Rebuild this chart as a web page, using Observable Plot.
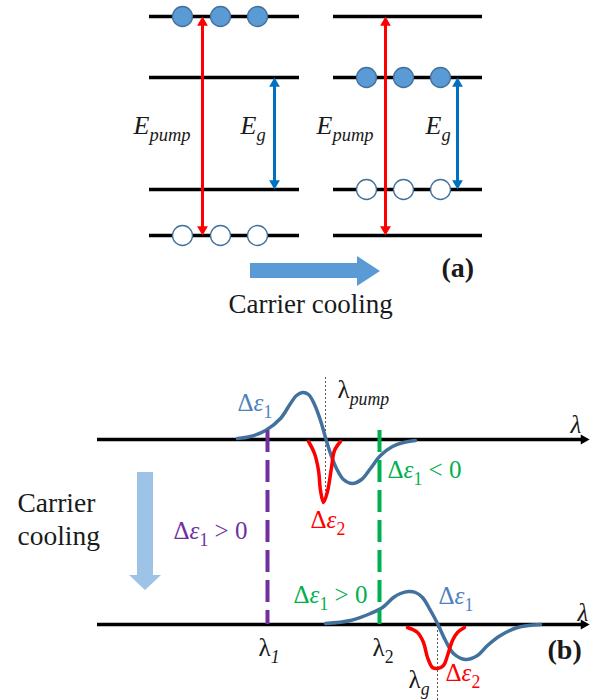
<!DOCTYPE html>
<html><head><meta charset="utf-8">
<script src="https://cdn.jsdelivr.net/npm/d3@7"></script>
<script src="https://cdn.jsdelivr.net/npm/@observablehq/plot@0.6"></script>
<style>
body{margin:0;background:#fff}
#chart svg{display:block;overflow:visible}
</style>
</head><body><div id="chart"></div>
<script>
// ================= DATA (diagram units) =================
// ---- Panel (a): band levels before / after carrier cooling ----
const levelY = [16, 77, 189, 235];
const panelSpans = [{x1: 149, x2: 299}, {x1: 333, x2: 482}];
const electrons = [
  {x: 182, y: 16}, {x: 220, y: 16}, {x: 257, y: 16},
  {x: 366, y: 77}, {x: 403, y: 77}, {x: 440, y: 77}
];
const holes = [
  {x: 182, y: 235}, {x: 220, y: 235}, {x: 257, y: 235},
  {x: 366, y: 189}, {x: 403, y: 189}, {x: 440, y: 189}
];
const pumpArrows = [{x: 202, y1: 16, y2: 235}, {x: 385, y1: 16, y2: 235}];
const gapArrows = [{x: 274, y1: 77, y2: 189}, {x: 457, y1: 77, y2: 189}];
const coolingArrowA = [
  {x: 250, y1: 263, y2: 278}, {x: 357, y1: 263, y2: 278},
  {x: 357, y1: 256, y2: 286}, {x: 380, y1: 271, y2: 271}
];
const labelsA = [
  {text: "E_{pump}", x: 133, y: 125}, {text: "E_{g}", x: 240, y: 125},
  {text: "E_{pump}", x: 316, y: 125}, {text: "E_{g}", x: 425, y: 125}
];
const titleA = [{text: "Carrier cooling", x: 228, y: 304}];
const panelTags = [{text: "(a)", x: 441, y: 268}, {text: "(b)", x: 547, y: 650}];

// ---- Panel (b): permittivity change spectra ----
const axesB = [{y: 439, x1: 97, x2: 589}, {y: 624, x1: 97, x2: 589}];
const coolingArrowB = [
  {y: 472, x1: 137, x2: 153}, {y: 575, x1: 137, x2: 153},
  {y: 575, x1: 129, x2: 161}, {y: 590, x1: 145, x2: 145}
];
const eps1Before = [
  [237,438],[250,436],[265,430],[280,418],[290,403],[296,395],[302,392],[308,394],
  [314,404],[320,420],[325,437],[330,453],[336,468],[343,479],[352,483],[361,479],
  [370,468],[380,455],[392,446],[403,442],[415,440]
];
const eps2Before = [
  [308,441],[314,453],[318,470],[320,490],[323,502],[327,491],[331,467],[334,450],[340,441]
];
const eps1After = [
  [325,623],[350,620],[370,613],[382,607],[393,597],[400,593],[408,591],[415,592],
  [422,597],[430,610],[437,623],[445,640],[453,653],[465,659],[477,655],[487,645],
  [500,635],[517,627],[540,624]
];
const eps2After = [
  [407,627],[417,632],[423,642],[427,657],[432,667],[437,668],[443,665],[447,655],
  [452,640],[457,632],[464,627]
];
const probeLambda1 = [{x: 267, y1: 430, y2: 624}];
const probeLambda2 = [{x: 379, y1: 430, y2: 624}];
const guides = [{x: 325, y1: 377, y2: 502}, {x: 437, y1: 622, y2: 700}];
const titleB = [{text: "Carrier", x: 17, y: 503}, {text: "cooling", x: 17, y: 536}];
const labelsB = [
  {text: "Δ*ε*_{1}", role: "eps1", x: 237, y: 402},
  {text: "Δ*ε*_{1}", role: "eps1", x: 438, y: 595},
  {text: "Δ*ε*_{2}", role: "eps2", x: 310, y: 519},
  {text: "Δ*ε*_{2}", role: "eps2", x: 445, y: 672},
  {text: "Δ*ε*_{1} > 0", role: "probe1", x: 173, y: 530},
  {text: "Δ*ε*_{1} < 0", role: "probe2", x: 387, y: 469},
  {text: "Δ*ε*_{1} > 0", role: "probe2", x: 293, y: 594},
  {text: "λ_{*pump*}", role: "text", x: 337, y: 389},
  {text: "*λ*", role: "text", x: 570, y: 424},
  {text: "*λ*", role: "text", x: 577, y: 612},
  {text: "λ_{*1*}", role: "text", x: 258, y: 647},
  {text: "λ_{2}", role: "text", x: 372, y: 647},
  {text: "λ_{*g*}", role: "text", x: 408, y: 679}
];
const roles = ["text", "eps1", "eps2", "probe1", "probe2"];
const roleColors = ["#1a1a1a", "#4F81BD", "#FF0000", "#7030A0", "#00B050"];

// ================= DRAWING =================
const serif = "Liberation Serif";
const levels = panelSpans.flatMap(s => levelY.map(y => ({...s, y})));
const red = "#FF0000", blue = "#0070C0", curveBlue = "#41719C";

function doubleArrow(data, color) {
  return [
    Plot.ruleX(data, {x: "x", y1: "y1", y2: "y2", stroke: color, strokeWidth: 3, insetTop: 6, insetBottom: 6}),
    Plot.dot(data, {x: "x", y: "y1", symbol: "triangle", r: 4, fill: color, stroke: "none", dy: 6.2, rotate: 0}),
    Plot.dot(data, {x: "x", y: "y2", symbol: "triangle", r: 4, fill: color, stroke: "none", dy: -6.2, rotate: 180})
  ];
}

const chart = Plot.plot({
  width: 595, height: 700, margin: 0,
  x: {domain: [0, 595], axis: null},
  y: {domain: [0, 700], reverse: true, axis: null},
  color: {type: "ordinal", domain: roles, range: roleColors},
  marks: [
    // panel (a)
    Plot.ruleY(levels, {y: "y", x1: "x1", x2: "x2", stroke: "black", strokeWidth: 3.5}),
    Plot.dot(electrons, {x: "x", y: "y", r: 10, fill: "#5B9BD5", stroke: "#41719C", strokeWidth: 1.3}),
    Plot.dot(holes, {x: "x", y: "y", r: 10, fill: "white", stroke: "#41719C", strokeWidth: 1.3}),
    ...doubleArrow(pumpArrows, red),
    ...doubleArrow(gapArrows, blue),
    Plot.areaY(coolingArrowA, {x: "x", y1: "y1", y2: "y2", fill: "#5B9BD5", curve: "linear"}),
    Plot.text(labelsA, {x: "x", y: "y", text: "text", textAnchor: "start", fontFamily: serif, fontSize: 26, fontStyle: "italic", fill: "#1a1a1a"}),
    Plot.text(titleA, {x: "x", y: "y", text: "text", textAnchor: "start", fontFamily: serif, fontSize: 27, fill: "#1a1a1a"}),
    Plot.text(panelTags, {x: "x", y: "y", text: "text", textAnchor: "start", fontFamily: serif, fontSize: 28, fontWeight: "bold", fill: "#1a1a1a"}),
    // panel (b)
    Plot.ruleY(axesB, {y: "y", x1: "x1", x2: "x2", stroke: "black", strokeWidth: 3.3, insetRight: 6}),
    Plot.dot(axesB, {x: "x2", y: "y", symbol: "triangle", r: 3.8, fill: "black", stroke: "none", rotate: 90, dx: -5.8}),
    Plot.areaX(coolingArrowB, {y: "y", x1: "x1", x2: "x2", fill: "#9DC3E6", curve: "linear"}),
    Plot.ruleX(guides, {x: "x", y1: "y1", y2: "y2", stroke: "#444", strokeWidth: 0.9, strokeDasharray: "2,2"}),
    Plot.line(eps1Before, {x: d => d[0], y: d => d[1], stroke: curveBlue, strokeWidth: 3.5, curve: "catmull-rom"}),
    Plot.line(eps2Before, {x: d => d[0], y: d => d[1], stroke: red, strokeWidth: 3.5, curve: "catmull-rom"}),
    Plot.line(eps1After, {x: d => d[0], y: d => d[1], stroke: curveBlue, strokeWidth: 3.5, curve: "catmull-rom"}),
    Plot.line(eps2After, {x: d => d[0], y: d => d[1], stroke: red, strokeWidth: 3.5, curve: "catmull-rom"}),
    Plot.ruleX(probeLambda1, {x: "x", y1: "y1", y2: "y2", stroke: "#7030A0", strokeWidth: 4, strokeDasharray: "22,8"}),
    Plot.ruleX(probeLambda2, {x: "x", y1: "y1", y2: "y2", stroke: "#00B050", strokeWidth: 4, strokeDasharray: "22,8"}),
    Plot.text(titleB, {x: "x", y: "y", text: "text", textAnchor: "start", fontFamily: serif, fontSize: 27.5, fill: "#1a1a1a"}),
    Plot.text(labelsB, {x: "x", y: "y", text: "text", fill: "role", textAnchor: "start", fontFamily: serif, fontSize: 25})
  ]
});

document.getElementById("chart").appendChild(chart);

// rich text: _{...} subscript, *...* italic
(function richText(svg) {
  const NS = "http://www.w3.org/2000/svg";
  for (const t of svg.querySelectorAll("text")) {
    const src = t.textContent;
    if (!/[_*]/.test(src)) continue;
    const fs = parseFloat(getComputedStyle(t).fontSize) || 16;
    const shift = fs * 0.29;
    t.textContent = "";
    const re = /_\{([^}]*)\}|\*([^*]*)\*|([^_*]+)/g;
    let m, pending = 0;
    while ((m = re.exec(src))) {
      const sp = document.createElementNS(NS, "tspan");
      let dy = pending; pending = 0;
      if (m[1] !== undefined) {
        let c = m[1];
        if (/^\*.*\*$/.test(c)) { c = c.slice(1, -1); sp.setAttribute("font-style", "italic"); }
        sp.setAttribute("font-size", (fs * 0.71).toFixed(1));
        dy += shift; pending = -shift;
        sp.textContent = c;
      } else if (m[2] !== undefined) {
        sp.setAttribute("font-style", "italic");
        sp.textContent = m[2];
      } else {
        sp.textContent = m[3];
      }
      if (dy) sp.setAttribute("dy", dy.toFixed(1));
      t.appendChild(sp);
    }
  }
})(chart);
</script>
</body></html>
